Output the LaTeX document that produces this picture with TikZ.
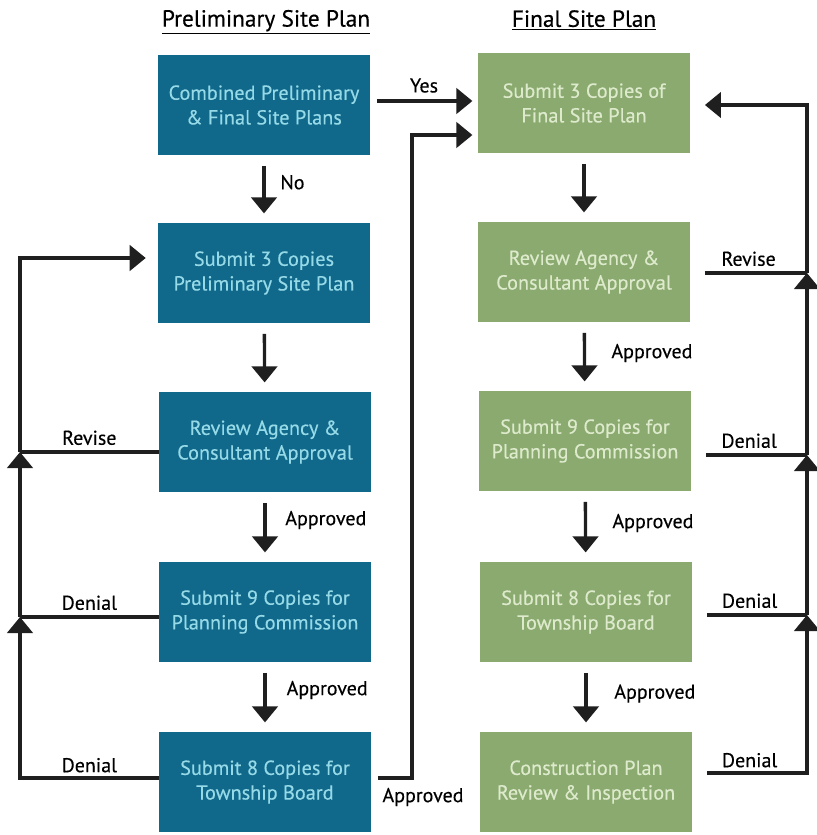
\documentclass[tikz,border=0pt]{standalone}
\usepackage{fontspec}
\setmainfont{PT Sans}[FakeBold=0.35]
\usepackage{tikz}
\usetikzlibrary{arrows.meta,calc}
\definecolor{prelimblue}{RGB}{16,104,138}
\definecolor{prelimtext}{RGB}{150,218,232}
\definecolor{finalgreen}{RGB}{138,170,112}
\definecolor{finaltext}{RGB}{222,234,204}
\tikzset{
  stage/.style={minimum width=159pt, minimum height=75pt, align=center,
    inner sep=2pt, font=\fontsize{15.2}{18.5}\selectfont},
  prelim/.style={stage, fill=prelimblue, text=prelimtext},
  final/.style={stage, fill=finalgreen, text=finaltext},
  back/.style={line width=2.5pt, draw=black!88},
  flow/.style={back, -{Triangle[width=19pt,length=12pt]}},
  down/.style={flow, shorten <=8pt, shorten >=7pt},
  tag/.style={font=\fontsize{15}{17}\selectfont, inner sep=1pt},
  head/.style={font=\fontsize{17.5}{20}\selectfont},
}

\begin{document}
\begin{tikzpicture}[x=0.75pt,y=-0.75pt]
\useasboundingbox (0,0) rectangle (817,835);
\node[head] (pretitle) at (266,22) {\underline{Preliminary Site Plan}};
\node[head] (fintitle) at (584,20) {\underline{Final Site Plan}};
% preliminary column
\node[prelim] (pre1) at (264,105) {Combined Preliminary\\\& Final Site Plans};
\node[prelim] (pre2) at (264,273) {Submit 3 Copies\\Preliminary Site Plan};
\node[prelim] (pre3) at (265,442) {Review Agency \&\\Consultant Approval};
\node[prelim] (pre4) at (265,612) {Submit 9 Copies for\\Planning Commission};
\node[prelim] (pre5) at (265,782) {Submit 8 Copies for\\Township Board};
% final column
\node[final] (fin1) at (584,103) {Submit 3 Copies of\\Final Site Plan};
\node[final] (fin2) at (584,272) {Review Agency \&\\Consultant Approval};
\node[final] (fin3) at (585,441) {Submit 9 Copies for\\Planning Commission};
\node[final] (fin4) at (586,612) {Submit 8 Copies for\\Township Board};
\node[final] (fin5) at (586,782) {Construction Plan\\Review \& Inspection};
\draw[down] (pre1) -- (pre2) node[tag, pos=0.4, right=10pt] {No};
\draw[down] (pre2) -- (pre3);
\draw[down] (pre3) -- (pre4) node[tag, pos=0.4, right=13pt] {Approved};
\draw[down] (pre4) -- (pre5) node[tag, pos=0.4, right=14pt] {Approved};
\draw[down] (fin1) -- (fin2);
\draw[down] (fin2) -- (fin3) node[tag, pos=0.45, right=18pt] {Approved};
\draw[down] (fin3) -- (fin4) node[tag, pos=0.45, right=18pt] {Approved};
\draw[down] (fin4) -- (fin5) node[tag, pos=0.45, right=19pt] {Approved};
% across
\draw[flow, shorten <=5pt, shorten >=4pt] ([yshift=3pt]pre1.east) -- ([yshift=3pt]pre1.east -| fin1.west)
  node[tag, midway, above=4pt] {Yes};
\coordinate (appr) at (412,135);
\draw[flow, shorten <=5pt, shorten >=4pt] ([yshift=3pt]pre5.east) -| (appr) -- (appr -| fin1.west);
\node[tag] (apprtag) at (423,797) {Approved};
% left return line
\coordinate (ltop) at (20,258);
\coordinate (lj3) at (20,452);
\coordinate (lj4) at (20,617);
\coordinate (lbot) at (20,778);
\draw[back] (pre3.west |- lj3) -- (lj3) node[tag, midway, above=3pt] {Revise};
\draw[back] (pre4.west |- lj4) -- (lj4) node[tag, midway, above=3pt] {Denial};
\draw[flow] (pre5.west |- lbot) -- (lbot) -- (lj4);
\path (pre5.west |- lbot) -- (lbot) node[tag, midway, above=3pt] {Denial};
\draw[flow] (lj4) -- (lj3);
\draw[flow, shorten >=9pt] (lj3) -- (ltop) -- (ltop -| pre2.west);
% right return line
\coordinate (rtop) at (807,105);
\coordinate (rj2) at (807,273);
\coordinate (rj3) at (807,455);
\coordinate (rj4) at (807,615);
\coordinate (rbot) at (807,773);
\draw[back, shorten <=11pt] (fin2.east |- rj2) -- (rj2) node[tag, midway, above=3pt] {Revise};
\draw[back, shorten <=11pt] (fin3.east |- rj3) -- (rj3) node[tag, midway, above=3pt] {Denial};
\draw[back, shorten <=11pt] (fin4.east |- rj4) -- (rj4) node[tag, midway, above=3pt] {Denial};
\draw[flow, shorten <=11pt] (fin5.east |- rbot) -- (rbot) -- (rj4);
\path (fin5.east |- rbot) -- (rbot) node[tag, midway, above=3pt] {Denial};
\draw[flow] (rj4) -- (rj3);
\draw[flow] (rj3) -- (rj2);
\draw[flow, shorten >=11pt] (rj2) -- (rtop) -- (rtop -| fin1.east);
\end{tikzpicture}
\end{document}
